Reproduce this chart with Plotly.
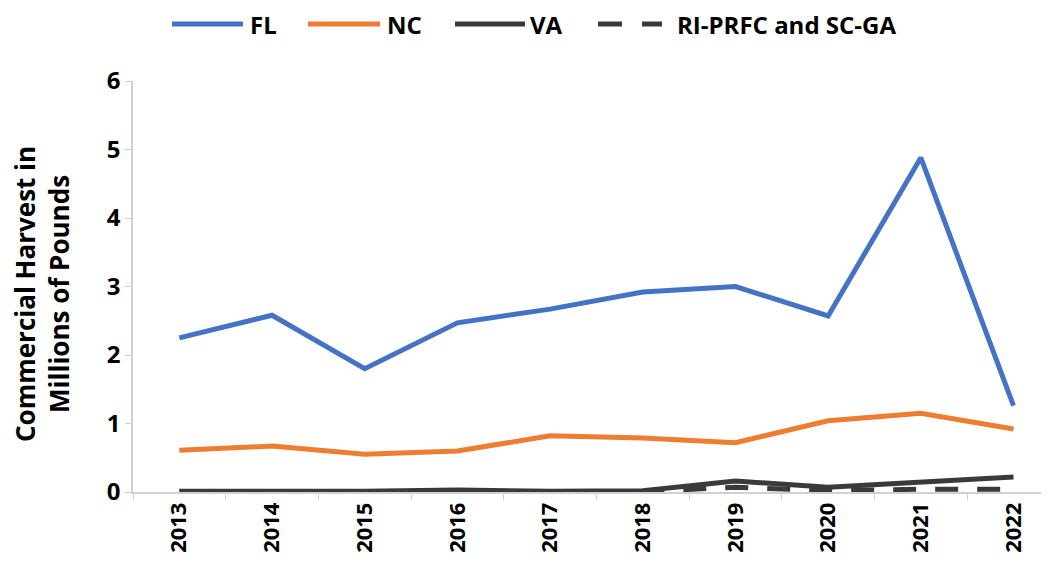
import plotly.graph_objects as go

years = ["2013", "2014", "2015", "2016", "2017", "2018", "2019", "2020", "2021", "2022"]
fl = [2.25, 2.58, 1.80, 2.47, 2.67, 2.92, 3.00, 2.57, 4.88, 1.26]
nc = [0.61, 0.67, 0.55, 0.60, 0.82, 0.79, 0.72, 1.04, 1.15, 0.92]
va = [0.01, 0.01, 0.01, 0.03, 0.01, 0.02, 0.16, 0.07, 0.15, 0.22]
ri_sc = [0.005, 0.005, 0.005, 0.01, 0.005, 0.005, 0.07, 0.02, 0.04, 0.04]

series_names = ["FL", "NC", "VA", "RI-PRFC and SC-GA"]
series_colors = ["#4472C4", "#ED7D31", "#3A3A3A", "#3A3A3A"]
series_dash = ["solid", "solid", "solid", "23px,19px"]
y_title = "Commercial Harvest in<br>Millions of Pounds"

FONT = "Open Sans"
fig = go.Figure()
for name, vals, col, dash in zip(series_names, [fl, nc, va, ri_sc], series_colors, series_dash):
    fig.add_trace(go.Scatter(x=years, y=vals, name=name, mode="lines",
                             line=dict(color=col, width=5, dash=dash)))

# plot area in window pixels (page has 8px body margin)
PX0, PX1, PY0, PY1 = 133, 1045, 81, 492
def px(x):
    return (x - PX0) / (PX1 - PX0)
def py(y):
    return (PY1 - y) / (PY1 - PY0)

# manual legend (long legend keys like the original)
leg_y = 24
leg_items = [(172, 243, 248), (308, 380, 385), (455, 525, 528), (598, 662, 675)]
shapes = []
annotations = []
for (x0, x1, xt), name, col, dash in zip(leg_items, series_names, series_colors, series_dash):
    ldash = "solid" if dash == "solid" else "24px,20px"
    shapes.append(dict(type="line", xref="paper", yref="paper", x0=px(x0), x1=px(x1),
                       y0=py(leg_y), y1=py(leg_y), line=dict(color=col, width=5, dash=ldash)))
    annotations.append(dict(text=name, xref="paper", yref="paper", x=px(xt), y=py(leg_y),
                            xanchor="left", yanchor="middle", showarrow=False,
                            width=len(name) * 17 + 16, height=36, align="left",
                            font=dict(family=FONT, size=24, weight="bold", color="black")))

# y-axis title placed as rotated text
annotations.append(dict(text=y_title, xref="paper", yref="paper", x=px(42), y=py(294),
                        xanchor="center", yanchor="middle", showarrow=False, textangle=-90,
                        font=dict(family=FONT, size=26, weight="bold", color="black")))

fig.update_layout(
    width=1049, height=570,
    margin=dict(l=PX0 - 8, r=1049 + 8 - PX1, t=PY0 - 8, b=570 + 8 - PY1),
    paper_bgcolor="white", plot_bgcolor="white",
    font=dict(family=FONT, color="black", size=24),
    showlegend=False,
    shapes=shapes, annotations=annotations,
)
fig.update_xaxes(type="category", range=[-0.5, 9.34], showline=True, linecolor="#D0D0D0",
                 linewidth=1.5, ticks="outside", tickson="boundaries", ticklen=6,
                 tickcolor="#D0D0D0", tickangle=-90, showgrid=False, automargin=False,
                 tickfont=dict(family=FONT, size=22, weight="bold"))
fig.update_yaxes(range=[0, 6], dtick=1, showline=True, linecolor="#D0D0D0", linewidth=1.5,
                 ticks="outside", ticklen=6, tickcolor="#D0D0D0", showgrid=False,
                 zeroline=False, automargin=False,
                 tickfont=dict(family=FONT, size=24, weight="bold"))
fig.write_html("out.html")
